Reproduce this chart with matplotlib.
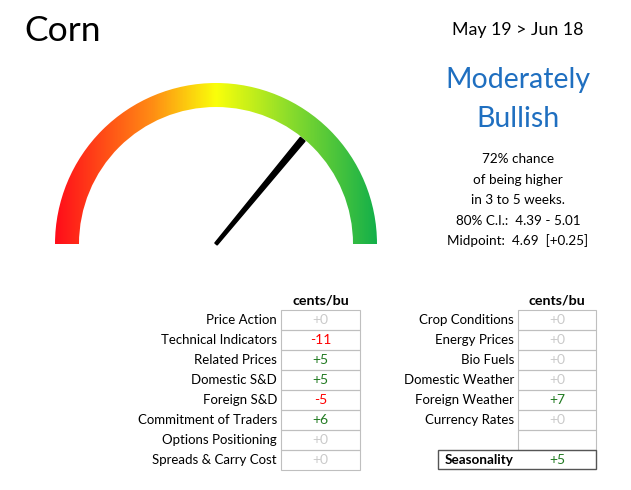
import numpy as np
import matplotlib
matplotlib.use("Agg")
import matplotlib.pyplot as plt
from matplotlib.patches import Wedge, Rectangle, Polygon
from matplotlib.colors import LinearSegmentedColormap

plt.rcParams['font.family'] = ['Lato', 'DejaVu Sans']

# ---- data ----
title = "Corn"
date_range = "May 19 > Jun 18"
outlook = ["Moderately", "Bullish"]
prob_higher = 0.72
info_lines = ["72% chance", "of being higher", "in 3 to 5 weeks.",
              "80% C.I.:  4.39 - 5.01", "Midpoint:  4.69  [+0.25]"]
left_labels = ["Price Action", "Technical Indicators", "Related Prices", "Domestic S&D",
               "Foreign S&D", "Commitment of Traders", "Options Positioning",
               "Spreads & Carry Cost"]
left_values = [0, -11, 5, 5, -5, 6, 0, 0]
right_labels = ["Crop Conditions", "Energy Prices", "Bio Fuels", "Domestic Weather",
                "Foreign Weather", "Currency Rates"]
right_values = [0, 0, 0, 0, 7, 0]
seasonality_label = "Seasonality"
seasonality_value = 5
unit_label = "cents/bu"

W, H = 631, 490
fig = plt.figure(figsize=(W / 100, H / 100), dpi=100)
ax = fig.add_axes([0, 0, 1, 1])
ax.set_xlim(0, W)
ax.set_ylim(H, 0)
ax.axis('off')

# ---- gauge ----
cx, cy = 216, 244
r_out, r_in = 161, 137
cmap = LinearSegmentedColormap.from_list(
    "g", [(0, "#FF0D1A"), (0.3, "#FF8C14"), (0.5, "#FAFF0A"),
          (0.72, "#8FDE2A"), (1.0, "#14B04A")])
grad = np.linspace(0, 1, 400).reshape(1, -1)
im = ax.imshow(grad, cmap=cmap, extent=[cx - r_out, cx + r_out, cy, cy - r_out],
               aspect='auto', zorder=1, interpolation='bilinear')
wedge = Wedge((cx, cy), r_out, 180, 360, width=r_out - r_in, transform=ax.transData)
im.set_clip_path(wedge)

# needle
ang = np.pi * (1 - prob_higher)
L = 136
ux, uy = np.cos(ang), -np.sin(ang)
px, py = -uy, ux
w0, w1 = 1.5, 3.0
tip = (cx + L * ux, cy + L * uy)
needle = Polygon([(cx + w0 * px, cy + w0 * py), (cx - w0 * px, cy - w0 * py),
                  (tip[0] - w1 * px, tip[1] - w1 * py), (tip[0] + w1 * px, tip[1] + w1 * py)],
                 closed=True, color='black', zorder=3)
ax.add_patch(needle)

# ---- header texts ----
ax.text(24, 31, title, fontsize=25.5, ha='left', va='center', color='black')
ax.text(518, 30, date_range, fontsize=12.8, ha='center', va='center', color='black')
ax.text(518, 80, outlook[0], fontsize=20.5, ha='center', va='center', color='#1F6FC0')
ax.text(518, 119, outlook[1], fontsize=20.5, ha='center', va='center', color='#1F6FC0')
for i, line in enumerate(info_lines):
    ax.text(518, 159 + i * 20.5, line, fontsize=9.7, ha='center', va='center', color='black')

# ---- tables ----
def color_for(v):
    if v > 0:
        return '#217A21'
    if v < 0:
        return '#FF0000'
    return '#CACACA'

def fmt(v):
    return f"{v:+d}"

row_h = 20
top = 310
grid_c = '#BFBFBF'
vfs = 10

# left table
lx0, lx1 = 281, 360
ax.text((lx0 + lx1) / 2, 300, unit_label, fontsize=10.3, fontweight='bold', ha='center', va='center')
for i, (lab, v) in enumerate(zip(left_labels, left_values)):
    y = top + i * row_h
    ax.add_patch(Rectangle((lx0, y), lx1 - lx0, row_h, fill=False, ec=grid_c, lw=0.8))
    ax.text(277, y + row_h / 2, lab, fontsize=9.5, ha='right', va='center')
    ax.text((lx0 + lx1) / 2, y + row_h / 2, fmt(v), fontsize=vfs, ha='center', va='center',
            color=color_for(v))

# right table
rx0, rx1 = 518, 596
ax.text((rx0 + rx1) / 2, 300, unit_label, fontsize=10.3, fontweight='bold', ha='center', va='center')
for i, (lab, v) in enumerate(zip(right_labels, right_values)):
    y = top + i * row_h
    ax.add_patch(Rectangle((rx0, y), rx1 - rx0, row_h, fill=False, ec=grid_c, lw=0.8))
    ax.text(514, y + row_h / 2, lab, fontsize=9.5, ha='right', va='center')
    ax.text((rx0 + rx1) / 2, y + row_h / 2, fmt(v), fontsize=vfs, ha='center', va='center',
            color=color_for(v))
# empty row
y = top + len(right_labels) * row_h
ax.add_patch(Rectangle((rx0, y), rx1 - rx0, row_h, fill=False, ec=grid_c, lw=0.8))
# seasonality
y = top + (len(right_labels) + 1) * row_h
ax.add_patch(Rectangle((438, y), rx1 - 438, row_h - 1, fill=False, ec='#555555', lw=1.0, zorder=4))
ax.text(514, y + row_h / 2, seasonality_label, fontsize=9.7, fontweight='bold', ha='right', va='center')
ax.text((rx0 + rx1) / 2, y + row_h / 2, fmt(seasonality_value), fontsize=vfs, ha='center',
        va='center', color=color_for(seasonality_value))

fig.savefig("out.png", dpi=100)
